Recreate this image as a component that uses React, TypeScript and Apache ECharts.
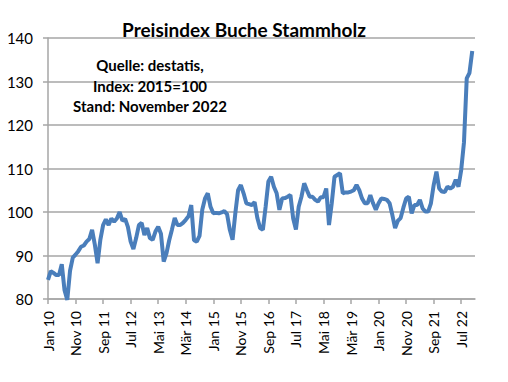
import React, { useEffect, useRef } from "react";
import * as echarts from "echarts";

const monthNames = ["Jan", "Feb", "Mär", "Apr", "Mai", "Jun", "Jul", "Aug", "Sep", "Okt", "Nov", "Dez"];
const years = ["10", "11", "12", "13", "14", "15", "16", "17", "18", "19", "20", "21", "22"];

// Monthly index values Jan 2010 – Nov 2022 (2015 = 100)
const values2010 = [84.4, 86.4, 86.0, 85.5, 85.5, 88.0, 82.0, 79.8, 86.5, 89.5, 90.2, 91.0];
const values2011 = [92.0, 92.3, 93.2, 93.8, 95.9, 92.5, 88.2, 93.6, 97.0, 98.3, 97.0, 98.5];
const values2012 = [97.8, 98.5, 100.0, 98.0, 98.4, 96.6, 93.2, 91.5, 94.0, 97.0, 97.5, 94.7];
const values2013 = [96.3, 94.0, 93.6, 95.5, 96.6, 95.0, 88.6, 90.5, 93.5, 96.0, 98.6, 97.0];
const values2014 = [97.0, 97.5, 98.2, 99.0, 101.6, 93.5, 93.2, 94.5, 100.5, 103.1, 104.3, 101.2];
const values2015 = [99.7, 99.8, 99.7, 99.9, 100.2, 99.5, 95.9, 93.6, 99.7, 105.0, 106.2, 104.3];
const values2016 = [102.0, 101.8, 101.6, 102.3, 98.6, 96.3, 95.9, 101.2, 107.0, 108.1, 105.8, 104.3];
const values2017 = [100.5, 103.1, 103.2, 103.5, 103.9, 98.5, 96.0, 101.2, 103.5, 106.6, 105.0, 103.5];
const values2018 = [103.5, 102.8, 102.4, 103.4, 103.4, 105.4, 97.0, 102.0, 108.1, 108.5, 108.9, 104.3];
const values2019 = [104.5, 104.5, 104.7, 105.0, 106.2, 105.0, 103.1, 102.0, 102.0, 103.9, 102.0, 100.5];
const values2020 = [102.0, 103.1, 103.0, 102.8, 102.0, 99.3, 96.3, 98.0, 98.6, 101.0, 103.1, 103.5];
const values2021 = [99.7, 101.6, 101.6, 102.8, 100.8, 100.1, 100.1, 102.0, 106.2, 109.3, 105.4, 104.7];
const values2022 = [104.6, 105.8, 105.4, 105.8, 107.4, 105.8, 109.7, 116.0, 130.7, 132.0, 137.0];

const yTicks = [80, 90, 100, 110, 120, 130, 140];

const titleText = "Preisindex Buche Stammholz";
const noteLines = ["Quelle: destatis,", "Index: 2015=100", "Stand: November 2022"];

export default function App() {
  const ref = useRef<HTMLDivElement>(null);
  useEffect(() => {
    if (!ref.current) return;
    const chart = echarts.init(ref.current, undefined, { renderer: "svg" });
    const categories: string[] = [];
    years.forEach((y) => monthNames.forEach((m) => categories.push(m + " " + y)));
    // axis runs to Dec 22 (empty)
    const data: (number | null)[] = [
      ...values2010, ...values2011, ...values2012, ...values2013, ...values2014,
      ...values2015, ...values2016, ...values2017, ...values2018, ...values2019,
      ...values2020, ...values2021, ...values2022, null,
    ];
    const font = "Lato, 'Liberation Sans', sans-serif";
    chart.setOption({
      animation: false,
      backgroundColor: "#ffffff",
      title: {
        text: titleText,
        left: 239,
        top: 15,
        textAlign: "center",
        textStyle: { fontFamily: font, fontSize: 19, fontWeight: "bold", color: "#000" },
      },
      grid: { left: 48, right: 33, top: 38, bottom: 83, containLabel: false },
      xAxis: {
        type: "category",
        data: categories,
        boundaryGap: false,
        axisLine: { show: true, lineStyle: { color: "#a6a6a6", width: 1.5 } },
        axisTick: { show: true, interval: 9, length: 5, lineStyle: { color: "#a6a6a6", width: 1.5 } },
        axisLabel: {
          interval: 9,
          rotate: 90,
          margin: 12,
          fontFamily: font,
          fontSize: 14,
          color: "#000",
        },
        splitLine: { show: false },
      },
      yAxis: {
        type: "value",
        min: yTicks[0],
        max: yTicks[yTicks.length - 1],
        interval: 10,
        axisLine: { show: true, lineStyle: { color: "#a6a6a6", width: 1.5 } },
        axisTick: { show: true, length: 5, lineStyle: { color: "#a6a6a6", width: 1.5 } },
        axisLabel: { margin: 15, fontFamily: font, fontSize: 15, color: "#000" },
        splitLine: { show: true, lineStyle: { color: "#a6a6a6", width: 1.5 } },
      },
      graphic: noteLines.map((t, i) => ({
        type: "text",
        x: 150,
        y: [65, 86, 106][i],
        style: {
          text: t,
          fontFamily: font,
          fontSize: 15,
          fontWeight: "bold",
          fill: "#000",
          textAlign: "center",
          textVerticalAlign: "middle",
        },
        z: 10,
      })),
      series: [
        {
          type: "line",
          data,
          showSymbol: false,
          symbol: "none",
          lineStyle: { color: "#4a7ebb", width: 4 },
          itemStyle: { color: "#4a7ebb" },
          connectNulls: false,
        },
      ],
    });
    return () => chart.dispose();
  }, []);
  return <div ref={ref} style={{ width: 508, height: 382, position: "absolute", left: 0, top: 0 }} />;
}
